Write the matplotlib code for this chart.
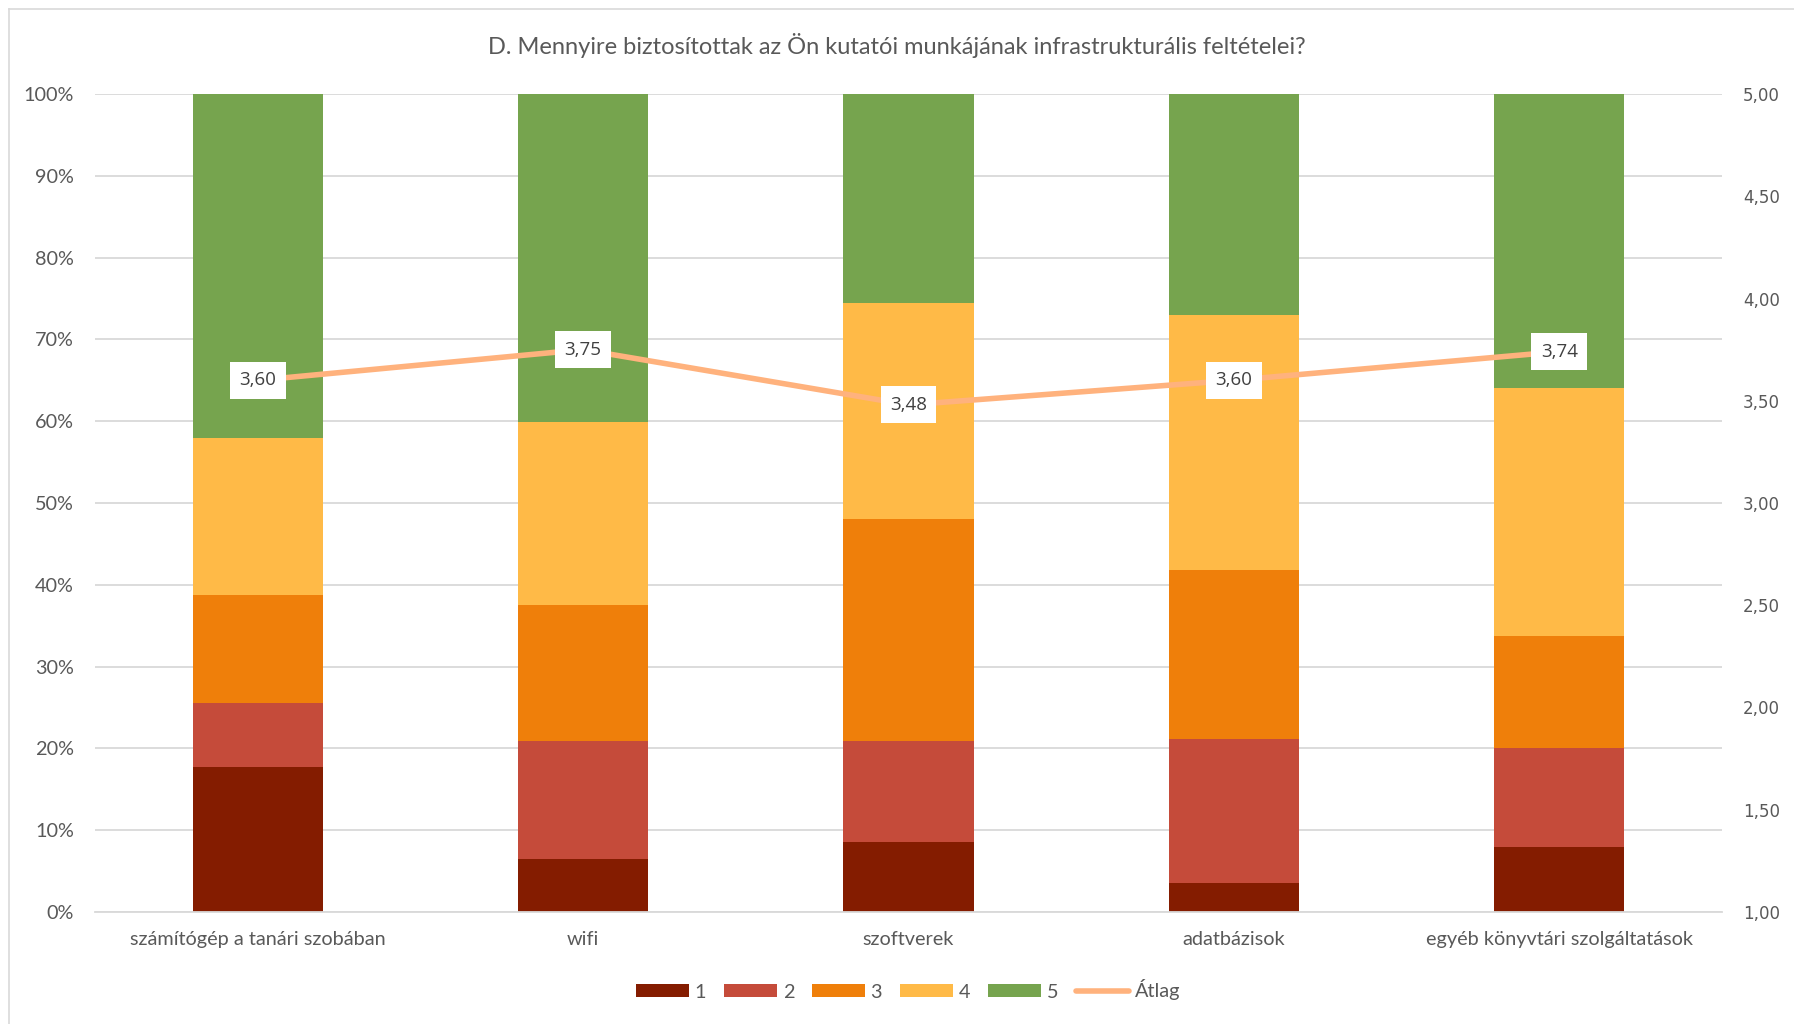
import matplotlib
matplotlib.use("Agg")
import matplotlib.pyplot as plt
from matplotlib.lines import Line2D
from matplotlib.ticker import FuncFormatter
import numpy as np

categories = ["számítógép a tanári szobában", "wifi", "szoftverek",
              "adatbázisok", "egyéb könyvtári szolgáltatások"]
series_names = ["1", "2", "3", "4", "5"]
s1 = [17.7, 6.5, 8.5, 3.5, 7.9]
s2 = [7.9, 14.4, 12.4, 17.7, 12.2]
s3 = [13.2, 16.6, 27.2, 20.6, 13.6]
s4 = [19.1, 22.4, 26.4, 31.2, 30.3]
s5 = [42.1, 40.1, 25.5, 27.0, 36.0]
averages = [3.60, 3.75, 3.48, 3.60, 3.74]
avg_name = "Átlag"
title = "D. Mennyire biztosítottak az Ön kutatói munkájának infrastrukturális feltételei?"

colors = ["#841C00", "#C54B3A", "#EF7F0A", "#FFBA47", "#76A44E"]
line_color = "#FFB27D"
text_color = "#595959"
grid_color = "#D9D9D9"
font = ["Lato", "DejaVu Sans"]

W, H = 1794, 1024
fig = plt.figure(figsize=(W / 100, H / 100), dpi=100)
fig.patch.set_facecolor("white")

# outer frame (cut at right/bottom like reference)
fig.add_artist(Line2D([9 / W, 1], [1 - 9 / H, 1 - 9 / H], color=grid_color, lw=1.2, transform=fig.transFigure))
fig.add_artist(Line2D([9 / W, 9 / W], [0, 1 - 9 / H], color=grid_color, lw=1.2, transform=fig.transFigure))

ax = fig.add_axes([95 / W, 1 - 912 / H, (1722 - 95) / W, (912 - 94) / H])
x = np.arange(len(categories))
series = [s1, s2, s3, s4, s5]
bottom = np.zeros(len(categories))
handles = []
for name, vals, c in zip(series_names, series, colors):
    b = ax.bar(x, vals, width=0.4, bottom=bottom, color=c, label=name, zorder=2, edgecolor="none")
    handles.append(b)
    bottom += np.array(vals)

ax.set_xlim(-0.5, len(categories) - 0.5)
ax.set_ylim(0, 100)
ax.set_yticks(np.arange(0, 101, 10))
ax.yaxis.set_major_formatter(FuncFormatter(lambda v, p: f"{int(round(v))}%"))
ax.grid(axis="y", color=grid_color, lw=1.3, zorder=0)
ax.set_axisbelow(True)
for s in ["left", "right", "top"]:
    ax.spines[s].set_visible(False)
ax.spines["bottom"].set_color(grid_color)
ax.spines["bottom"].set_linewidth(1.3)
ax.tick_params(axis="y", length=0, pad=15, labelsize=14.3, labelcolor=text_color)
ax.tick_params(axis="x", length=0, pad=14, labelsize=14.3, labelcolor=text_color)
ax.set_xticks(x)
ax.set_xticklabels(categories)
for lab in ax.get_xticklabels() + ax.get_yticklabels():
    lab.set_family(font)

ax2 = ax.twinx()
ax2.set_ylim(1, 5)
ax2.set_yticks(np.arange(1, 5.01, 0.5))
ax2.yaxis.set_major_formatter(FuncFormatter(lambda v, p: f"{v:.2f}".replace(".", ",")))
for s in ["left", "right", "top", "bottom"]:
    ax2.spines[s].set_visible(False)
ax2.tick_params(axis="y", length=0, pad=15, labelsize=12, labelcolor=text_color)
for lab in ax2.get_yticklabels():
    lab.set_family(["DejaVu Sans"])
line, = ax2.plot(x, averages, color=line_color, lw=4, label=avg_name, zorder=3, solid_capstyle="round")
for xi, v in zip(x, averages):
    ax2.text(xi, v, f"{v:.2f}".replace(".", ","), ha="center", va="center", fontsize=13.5,
             color="#404040", family=["Open Sans", "DejaVu Sans"], zorder=5,
             bbox=dict(boxstyle="square,pad=0.5", fc="white", ec="none"))

fig.text(0.5, 1 - 46 / H, title, ha="center", va="center", fontsize=17, color=text_color, family=font)

leg_handles = handles + [Line2D([0], [0], color=line_color, lw=4, solid_capstyle="round")]
leg_labels = series_names + [avg_name]
leg = fig.legend(leg_handles, leg_labels, loc="center", bbox_to_anchor=(908 / W, 1 - 990 / H),
                 ncol=6, frameon=False, handlelength=2.65, handleheight=0.68,
                 handletextpad=0.3, columnspacing=0.9, prop={"family": font, "size": 14.3})
for t in leg.get_texts():
    t.set_color(text_color)

fig.savefig("out.png", dpi=100, facecolor="white")
